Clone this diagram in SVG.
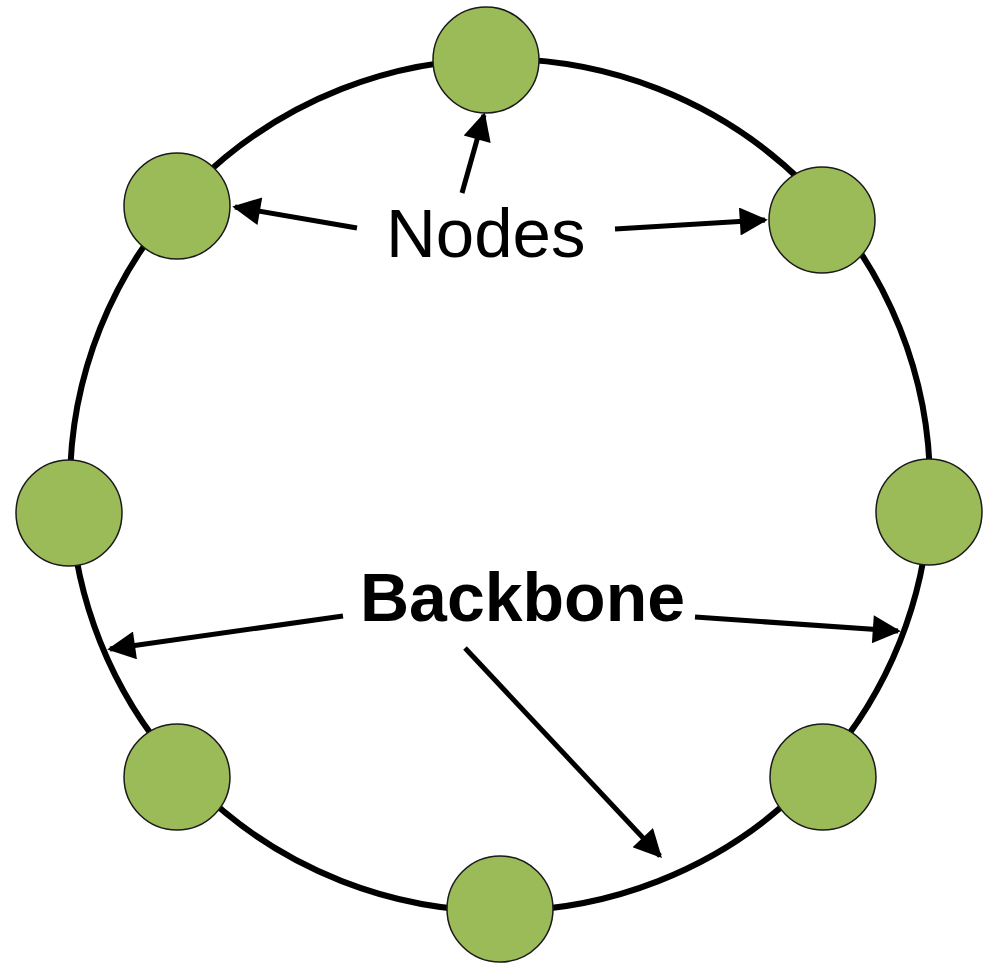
<svg xmlns="http://www.w3.org/2000/svg" width="983" height="965" viewBox="0 0 983 965">
<defs>
<style>
.ring{fill:none;stroke:#000;stroke-width:6}
.node{fill:#9bbb59;stroke:#1a1a1a;stroke-width:1.5}
.arr{fill:none;stroke:#000;stroke-width:5;marker-end:url(#ah)}
.lbl{font-family:"Liberation Sans",Arial,sans-serif;fill:#000}
</style>
<marker id="ah" viewBox="0 0 10 10" refX="9" refY="5" markerWidth="8" markerHeight="5.6" markerUnits="strokeWidth" orient="auto">
<path d="M0,0 L10,5 L0,10 z" fill="#000"/>
</marker>
</defs>
<rect width="983" height="965" fill="#fff"/>
<g id="backbone"><ellipse class="ring" cx="500" cy="485" rx="430" ry="426"/></g>
<g id="connectors">
<line class="arr" x1="462" y1="193" x2="484" y2="115"/>
<line class="arr" x1="357" y1="228" x2="235" y2="207"/>
<line class="arr" x1="615" y1="229" x2="765" y2="220"/>
<line class="arr" x1="343" y1="616" x2="110" y2="649"/>
<line class="arr" x1="695" y1="617" x2="898" y2="631"/>
<line class="arr" x1="465" y1="648" x2="660" y2="856"/>
</g>
<g id="node-top"><circle class="node" cx="486" cy="60" r="53"/></g>
<g id="node-top-left"><circle class="node" cx="177" cy="206" r="53"/></g>
<g id="node-top-right"><circle class="node" cx="822" cy="220" r="53"/></g>
<g id="node-left"><circle class="node" cx="69" cy="513" r="53"/></g>
<g id="node-right"><circle class="node" cx="929" cy="512" r="53"/></g>
<g id="node-bottom-left"><circle class="node" cx="177" cy="777" r="53"/></g>
<g id="node-bottom-right"><circle class="node" cx="823" cy="777" r="53"/></g>
<g id="node-bottom"><circle class="node" cx="500" cy="909" r="53"/></g>
<g id="labels">
<text class="lbl" x="386" y="257" font-size="69">Nodes</text>
<text class="lbl" x="360" y="621" font-size="68" font-weight="bold">Backbone</text>
</g>
</svg>
